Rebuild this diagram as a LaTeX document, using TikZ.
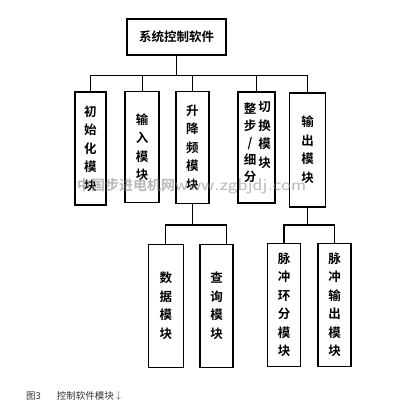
\documentclass[tikz,border=0pt]{standalone}
\usepackage{fontspec}
\usepackage{graphicx}
\newfontfamily\cjk{Noto Sans CJK SC}
\newfontfamily\cjkb{Noto Sans CJK SC Bold}
\begin{document}
\begin{tikzpicture}[x=1pt,y=-1pt,
  box/.style={draw, line width=1.6pt, inner sep=0pt, align=center,
    font=\cjkb\fontsize{12.5}{18.5}\selectfont},
  conn/.style={line width=1.1pt}]
\useasboundingbox[fill=white] (0,0) rectangle (400,418);
% top
\node[box, minimum width=99pt, minimum height=36pt] (top) at (176.5,37) {系统控制软件};
% level 1
\node[box, minimum width=31pt, minimum height=113pt] (b1) at (90.3,148.3) {初\\始\\化\\模\\块};
\node[box, minimum width=34pt, minimum height=111pt] (b2) at (142.2,147) {输\\入\\模\\块};
\node[box, minimum width=33pt, minimum height=112pt] (b3) at (192.3,147.5) {升\\降\\频\\模\\块};
\node[box, minimum width=37pt, minimum height=111pt] (b4) at (256.6,147.3) {};
\node[box, minimum width=36pt, minimum height=114pt] (b5) at (307.5,149.7) {输\\出\\模\\块};
\node[font=\cjkb\fontsize{12.5}{17}\selectfont, align=center, inner sep=0pt] (b4l) at (250,143) {整\\步\\/\\细\\分};
\node[font=\cjkb\fontsize{12.5}{18.5}\selectfont, align=center, inner sep=0pt] (b4r) at (264.5,135) {切\\换\\模\\块};
% level 2
\node[box, minimum width=35pt, minimum height=123pt] (c1) at (165.8,306) {数\\据\\模\\块};
\node[box, minimum width=33pt, minimum height=123pt] (c2) at (216.7,306) {查\\询\\模\\块};
\node[box, minimum width=33pt, minimum height=123pt] (c3) at (284,305) {脉\\冲\\环\\分\\模\\块};
\node[box, minimum width=33pt, minimum height=123pt] (c4) at (334.7,305) {脉\\冲\\输\\出\\模\\块};
% buses
\coordinate (bus) at (176.5,75.7);
\coordinate (busa) at (191,225);
\coordinate (busb) at (308,225);
\coordinate (c2drop) at (226.7,244.5);
\draw[conn] (top.south) -- (top.south |- bus);
\draw[conn] (b1.north) -- (b1.north |- bus) -- (b5.north |- bus) -- (b5.north);
\draw[conn] (b2.north) -- (b2.north |- bus);
\draw[conn] (b3.north) -- (b3.north |- bus);
\draw[conn] (b4.north) -- (b4.north |- bus);
\draw[conn] (b3.south) -- (b3.south |- busa);
\draw[conn] (c1.north) -- (c1.north |- busa) -- (c2drop |- busa) -- (c2drop);
\draw[conn] (b5.south) -- (b5.south |- busb);
\draw[conn] (c3.north) -- (c3.north |- busb) -- (c4.north |- busb) -- (c4.north);
% watermark
\node[text=gray, opacity=0.55, inner sep=0pt, anchor=west] (wm) at (77,186)
  {{\cjkb\fontsize{14}{14}\selectfont 中国步进电机网}\scalebox{1.2}[1]{\sffamily\fontsize{17}{18}\selectfont www.zgbjdj.com}};
% caption
\node[anchor=west, inner sep=0pt, text=black!80, font=\cjk\fontsize{9.5}{10}\selectfont] (cap) at (26,396)
  {图3\hspace{16pt}控制软件模块{\color{gray}↓}};
\end{tikzpicture}
\end{document}
